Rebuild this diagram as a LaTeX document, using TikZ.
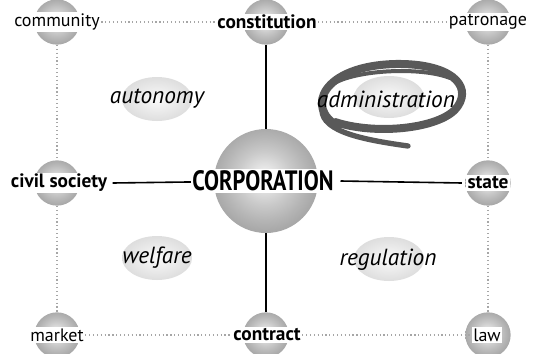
\documentclass[tikz,border=0pt]{standalone}
\usepackage{fontspec}
\setmainfont{PT Sans}
\usepackage{tikz}
\usetikzlibrary{shadings}

\pgfdeclareradialshading{softball}{\pgfpoint{-1bp}{2bp}}{color(0bp)=(gray!5); color(5bp)=(gray!20); color(13bp)=(gray!42); color(20bp)=(gray!58); color(25bp)=(gray!68); color(50bp)=(gray!68)}

\tikzset{
  ball/.style={circle,minimum size=34,inner sep=0pt,shading=softball},
  bigball/.style={circle,minimum size=78,inner sep=0pt,shading=softball},
  corner/.style={fill=white,inner sep=1pt,font=\fontsize{13.5}{15}\selectfont},
  hub/.style={fill=white,inner sep=1pt,font=\fontsize{14.5}{16}\selectfont\bfseries},
  core/.style={fill=white,inner sep=1pt,font=\fontsize{21}{23}\selectfont\bfseries},
  quad/.style={font=\fontsize{17.5}{19}\selectfont\itshape},
  dotline/.style={draw=gray!70,dotted,line width=0.9pt},
  solidline/.style={draw=black,line width=1.2pt}
}

\begin{document}
\begin{tikzpicture}[x=0.75pt,y=0.75pt,yscale=-1,xscale=1]
\useasboundingbox (0,0) rectangle (537,354);

%Shape: Ellipse (quadrants)
\shade[inner color=gray!4,outer color=gray!26] (157,99) ellipse (35 and 22);
\shade[inner color=gray!4,outer color=gray!26] (389,97) ellipse (35 and 21);
\shade[inner color=gray!4,outer color=gray!26] (157,258) ellipse (35 and 22);
\shade[inner color=gray!4,outer color=gray!26] (389,259) ellipse (35 and 22);

%Shape: Scribble
\draw[gray!70!black,line width=6,line cap=round] (338,126) .. controls (305,108) and (322,66) .. (395,64) .. controls (450,63) and (472,85) .. (458,106) .. controls (444,128) and (378,136) .. (335,122);
\draw[gray!70!black,line width=3,line cap=round] (330,86) .. controls (350,70) and (420,66) .. (450,78);
\draw[gray!70!black,line width=4,line cap=round] (322,110) .. controls (322,132) and (365,140) .. (408,146);

%Shape: Spheres
\node[ball] (s-community) at (57,22) {};
\node[ball] (s-constitution) at (266,22) {};
\node[ball] (s-patronage) at (488,22) {};
\node[ball] (s-civil) at (57,183) {};
\node[bigball] (s-core) at (266,181) {};
\node[ball] (s-state) at (488,183) {};
\node[ball] (s-market) at (57,335) {};
\node[ball] (s-contract) at (266,335) {};
\node[ball] (s-law) at (488,335) {};

% Text Node
\node[corner] (community) at (57,22) {community};
\node[hub] (constitution) at (267,22) {constitution};
\node[corner] (patronage) at (488,22) {patronage};
\node[hub] (civil) at (59,183) {civil society};
\node[core] (core) at (263,181) {\scalebox{0.8}[1]{CORPORATION}};
\node[hub] (state) at (488,183) {state};
\node[corner] (market) at (57,335) {market};
\node[hub] (contract) at (267,335) {contract};
\node[corner] (law) at (487,335) {law};

% Text Node (quadrants)
\node[quad] (autonomy) at (157,99) {autonomy};
\node[quad] (administration) at (386,99) {administration};
\node[quad] (welfare) at (157,258) {welfare};
\node[quad] (regulation) at (388,260) {regulation};

%Shape: Lines
\draw[dotline] (community) -- (constitution);
\draw[dotline] (constitution) -- (patronage);
\draw[dotline] (market) -- (contract);
\draw[dotline] (contract) -- (law);
\draw[dotline] (s-community) -- (s-civil);
\draw[dotline] (s-civil) -- (s-market);
\draw[dotline] (s-patronage) -- (s-state);
\draw[dotline] (s-state) -- (s-law);
\draw[solidline] (s-constitution) -- (s-core);
\draw[solidline] (s-core) -- (s-contract);
\draw[solidline] ([xshift=3]civil.east) -- (core);
\draw[solidline] ([xshift=4]core.east) -- ([xshift=-3]state.west);

\end{tikzpicture}
\end{document}
